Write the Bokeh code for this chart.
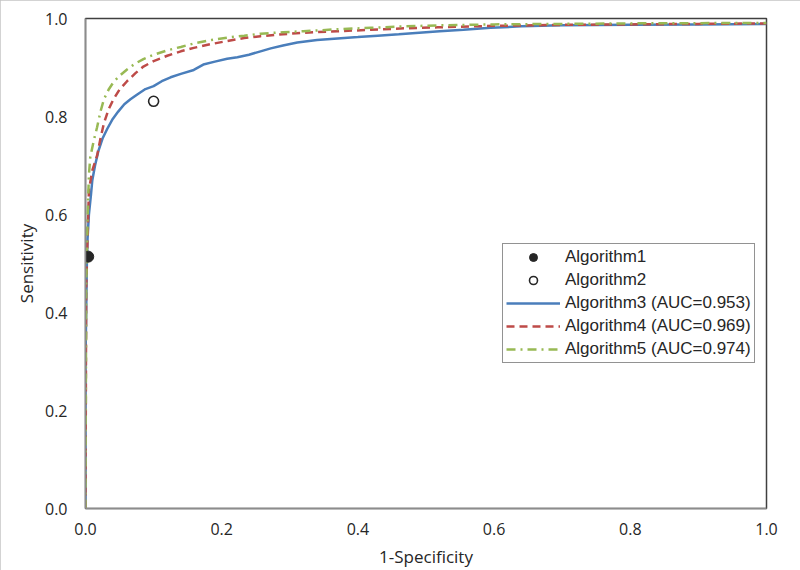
from bokeh.plotting import figure
from bokeh.models import Range1d, FixedTicker, Legend, LegendItem, NumeralTickFormatter
from bokeh.embed import file_html
from bokeh.resources import INLINE

# ---- data ----
alg1_x = [0.004]
alg1_y = [0.514]
alg2_x = [0.100]
alg2_y = [0.831]

alg3_x = [0.0, 0.0, 0.002, 0.003, 0.005, 0.008, 0.010, 0.014, 0.019, 0.025, 0.032, 0.040, 0.048,
          0.057, 0.066, 0.076, 0.088, 0.100, 0.112, 0.125, 0.140, 0.159, 0.173, 0.190, 0.208,
          0.223, 0.240, 0.257, 0.272, 0.290, 0.311, 0.340, 0.370, 0.400, 0.429, 0.460, 0.490,
          0.520, 0.555, 0.595, 0.640, 0.700, 0.800, 0.900, 1.000]
alg3_y = [0.0, 0.30, 0.50, 0.55, 0.60, 0.64, 0.67, 0.70, 0.73, 0.755, 0.775, 0.795, 0.81,
          0.825, 0.835, 0.845, 0.856, 0.862, 0.872, 0.88, 0.887, 0.895, 0.906, 0.912, 0.918,
          0.921, 0.926, 0.933, 0.939, 0.945, 0.951, 0.956, 0.959, 0.962, 0.965, 0.968, 0.971,
          0.974, 0.977, 0.981, 0.984, 0.986, 0.987, 0.988, 0.989]

alg4_x = [0.0, 0.001, 0.003, 0.005, 0.010, 0.017, 0.022, 0.027, 0.034, 0.041, 0.050, 0.061,
          0.073, 0.085, 0.100, 0.120, 0.140, 0.159, 0.185, 0.208, 0.233, 0.257, 0.290, 0.320,
          0.370, 0.419, 0.470, 0.517, 0.600, 0.700, 0.800, 0.900, 1.0]
alg4_y = [0.0, 0.45, 0.55, 0.65, 0.69, 0.72, 0.755, 0.786, 0.815, 0.835, 0.855, 0.872,
          0.888, 0.902, 0.913, 0.924, 0.933, 0.940, 0.948, 0.954, 0.960, 0.964, 0.968, 0.971,
          0.974, 0.977, 0.980, 0.982, 0.985, 0.987, 0.988, 0.989, 0.990]

alg5_x = [0.0, 0.001, 0.003, 0.005, 0.007, 0.012, 0.017, 0.022, 0.027, 0.034, 0.041, 0.050,
          0.061, 0.073, 0.085, 0.100, 0.120, 0.140, 0.159, 0.185, 0.208, 0.233, 0.257, 0.290,
          0.320, 0.370, 0.419, 0.470, 0.517, 0.600, 0.700, 0.800, 1.0]
alg5_y = [0.0, 0.45, 0.59, 0.68, 0.717, 0.75, 0.778, 0.81, 0.835, 0.855, 0.870, 0.883,
          0.896, 0.908, 0.917, 0.926, 0.935, 0.942, 0.949, 0.956, 0.961, 0.965, 0.969, 0.972,
          0.974, 0.978, 0.981, 0.984, 0.986, 0.988, 0.989, 0.990, 0.991]

ticks = [0.0, 0.2, 0.4, 0.6, 0.8, 1.0]
labels = ["Algorithm1", "Algorithm2", "Algorithm3 (AUC=0.953)",
          "Algorithm4 (AUC=0.969)", "Algorithm5 (AUC=0.974)"]

BLUE = "#4a7ebb"
RED = "#be4b48"
GREEN = "#98b954"
TICK_FONT = "Open Sans"

p = figure(width=800, height=570, output_backend="svg", toolbar_location=None,
           x_range=Range1d(0, 1), y_range=Range1d(0, 1),
           min_border_left=85, min_border_right=34, min_border_top=18, min_border_bottom=60)
p.styles = {"outline": "2px solid #c4c4c4", "outline-offset": "-2px"}
p.xgrid.visible = False
p.ygrid.visible = False
p.outline_line_color = "#404040"
p.outline_line_width = 1.5

for ax in (p.xaxis[0], p.yaxis[0]):
    ax.ticker = FixedTicker(ticks=ticks)
    ax.formatter = NumeralTickFormatter(format="0.0")
    ax.major_tick_line_color = None
    ax.minor_tick_line_color = None
    ax.major_tick_out = 0
    ax.axis_line_color = "#8c8c8c"
    ax.axis_line_width = 1.5
    ax.major_label_text_font = TICK_FONT
    ax.major_label_text_font_size = "16px"
    ax.major_label_text_color = "#262626"
    ax.axis_label_text_font = TICK_FONT
    ax.axis_label_text_font_size = "17px"
    ax.axis_label_text_font_style = "normal"
    ax.axis_label_text_color = "#262626"

p.xaxis.axis_label = "1-Specificity"
p.yaxis.axis_label = "Sensitivity"
p.xaxis.major_label_standoff = 14
p.yaxis.major_label_standoff = 18
p.xaxis.axis_label_standoff = 7
p.yaxis.axis_label_standoff = 4

r3 = p.line(alg3_x, alg3_y, line_color=BLUE, line_width=2.5)
r4 = p.line(alg4_x, alg4_y, line_color=RED, line_width=2.5, line_dash="8 5")
r5 = p.line(alg5_x, alg5_y, line_color=GREEN, line_width=2.5, line_dash="9 5 2 5")
r1 = p.scatter(alg1_x, alg1_y, size=11, fill_color="#262626", line_color="#262626")
r2 = p.scatter(alg2_x, alg2_y, size=10, fill_color="white", line_color="#262626", line_width=1.6)

legend = Legend(items=[LegendItem(label=labels[0], renderers=[r1]),
                       LegendItem(label=labels[1], renderers=[r2]),
                       LegendItem(label=labels[2], renderers=[r3]),
                       LegendItem(label=labels[3], renderers=[r4]),
                       LegendItem(label=labels[4], renderers=[r5])],
                location=(417, 145))
legend.label_text_font = "Liberation Sans"
legend.label_text_font_size = "17px"
legend.label_text_color = "#262626"
legend.border_line_color = "#262626"
legend.border_line_width = 1.2
legend.padding = 3
legend.spacing = 3
legend.margin = 0
legend.label_height = 20
legend.glyph_height = 20
legend.glyph_width = 54
legend.label_standoff = 5
legend.background_fill_alpha = 1.0
p.add_layout(legend, "center")

open("out.html", "w").write(file_html(p, INLINE))
